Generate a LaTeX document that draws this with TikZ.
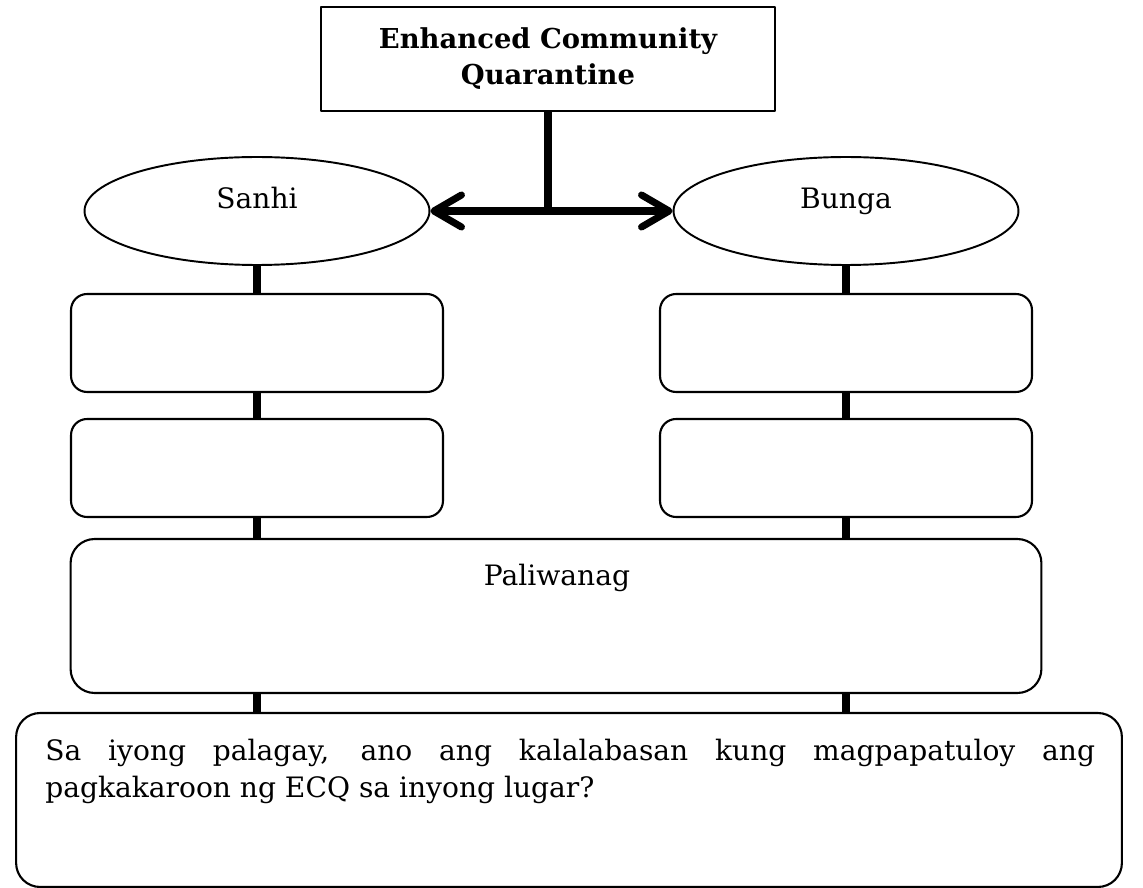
\documentclass[tikz,border=0pt]{standalone}
\usepackage{fontspec}
\setmainfont{DejaVu Serif}
\usetikzlibrary{shapes.geometric,arrows.meta}
\begin{document}
\begin{tikzpicture}[x=0.02cm,y=-0.02cm,line join=round,
	font=\fontsize{16}{21}\selectfont,
	>={Straight Barb[round,length=0.55cm,width=0.64cm]},
	hop/.style={draw,line width=1.2pt,inner sep=0pt},
	hopbo/.style={hop,rounded corners=0.32cm,minimum width=7.44cm,minimum height=1.96cm},
	hoplon/.style={hop,rounded corners=0.48cm},
	elip/.style={draw,ellipse,line width=1.1pt,minimum width=6.9cm,minimum height=2.16cm,inner sep=0pt},
	noi/.style={line width=4pt,line cap=butt}]
	\useasboundingbox (0,0) rectangle (1143,888);
	\def\xT{257} % cot trai
	\def\xP{846} % cot phai
	% o tren cung
	\node[hop,minimum width=9.08cm,minimum height=2.08cm,align=center,
	font=\fontsize{15.6}{20.5}\selectfont\bfseries] (ECQ) at (548,59)
	{Enhanced Community\\ Quarantine};
	% hai hinh elip
	\node[elip] (S) at (\xT,211) {};
	\node[elip] (B) at (\xP,211) {};
	\node[anchor=base] (tS) at (\xT,209) {Sanhi};
	\node[anchor=base] (tB) at (\xP,209) {Bunga};
	% cac o trong
	\node[hopbo] (S1) at (\xT,343) {};
	\node[hopbo] (S2) at (\xT,468) {};
	\node[hopbo] (B1) at (\xP,343) {};
	\node[hopbo] (B2) at (\xP,468) {};
	\node[hoplon,minimum width=19.42cm,minimum height=3.08cm] (PW) at (556,616) {};
	\node[anchor=base] (tPW) at (557,585) {Paliwanag};
	\node[hoplon,minimum width=22.12cm,minimum height=3.48cm] (CH) at (569,800) {};
	\node[anchor=north west,text width=21cm,align=justify,inner sep=0pt] (cau) at (45,739)
	{Sa iyong palagay, ano ang kalalabasan kung magpapatuloy ang \mbox{pagkakaroon} ng ECQ sa inyong lugar?};
	% duong noi
	\draw[noi] (ECQ.south) -- (ECQ.south |- S.east);
	\draw[noi,<->] (S.east) -- (B.west);
	\draw[noi] (S.south) -- (S1.north) (S1.south) -- (S2.north) (S2.south) -- (PW.north -| S2.south);
	\draw[noi] (B.south) -- (B1.north) (B1.south) -- (B2.north) (B2.south) -- (PW.north -| B2.south);
	\draw[noi] (PW.south -| S2.south) -- (CH.north -| S2.south)
	(PW.south -| B2.south) -- (CH.north -| B2.south);
\end{tikzpicture}
\end{document}
